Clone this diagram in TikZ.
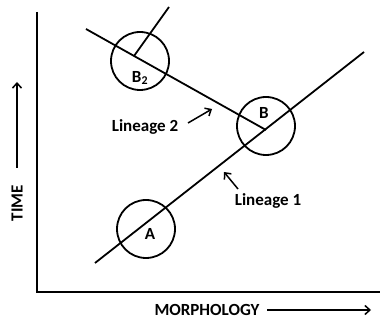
\documentclass[tikz,border=0pt]{standalone}
\usepackage{fontspec}
\setmainfont{Carlito}
\usetikzlibrary{arrows.meta, positioning}

\begin{document}
\begin{tikzpicture}[
  x=1pt, y=-1pt,
  every node/.style={font=\bfseries\fontsize{17}{19}\selectfont},
  stage/.style={circle, draw, line width=1.8pt, minimum size=58pt, inner sep=0pt},
  lin/.style={line width=1.8pt},
  axis/.style={line width=1.6pt},
  arr/.style={-{Straight Barb[length=5pt, width=9pt]}, line width=1.5pt}
]
\useasboundingbox (0,0) rectangle (380,320);

% Nodes
\node[stage] (A)  at (146,229) {};
\node[stage] (B)  at (266,126) {};
\node[stage] (B2) at (140,61)  {};

\node at (150,234) (labA) {A};
\node at (264,113) (labB) {B};
\node at (140,78) (labB2) {B\textsubscript{2}};

\node at (145,127) (lin2) {Lineage 2};
\node at (268,201) (lin1) {Lineage 1};
\node[rotate=90] at (17,203) (time) {TIME};
\node at (207,310) (morph) {MORPHOLOGY};

\coordinate (l1s) at (95,263);
\coordinate (l1e) at (364,52);
\coordinate (l2s) at (86,29);
\coordinate (fork) at (266,130);
\coordinate (brs) at (134,56);
\coordinate (bre) at (169,7);
\coordinate (org) at (37,292);
\coordinate (ytop) at (37,12);
\coordinate (xend) at (380,292);
\coordinate (a2s) at (188,123);
\coordinate (a2e) at (212,109);
\coordinate (a1s) at (238,189);
\coordinate (a1e) at (224,172);
\coordinate (ts) at (17,168);
\coordinate (te) at (17,82);
\coordinate (ms) at (267,310);
\coordinate (me) at (371,310);

% Edges
\draw[axis] (ytop) -- (org) -- (xend);
\draw[lin] (l1s) -- (l1e);
\draw[lin] (l2s) -- (fork);
\draw[lin] (brs) -- (bre);
\draw[arr] (a2s) -- (a2e);
\draw[arr] (a1s) -- (a1e);
\draw[arr] (ts) -- (te);
\draw[arr] (ms) -- (me);

\end{tikzpicture}
\end{document}
